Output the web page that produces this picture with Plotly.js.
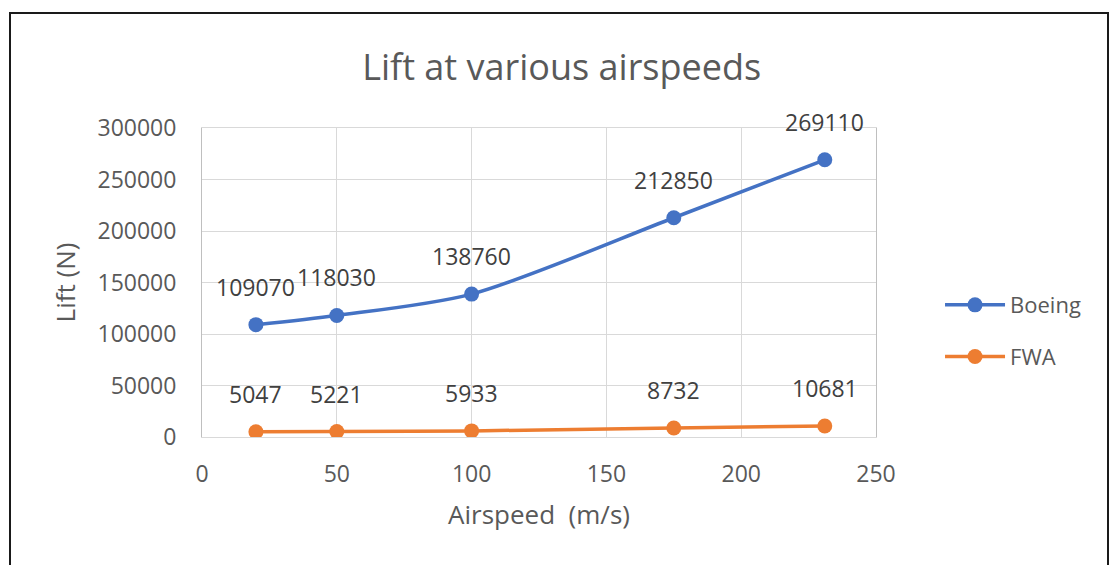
<!DOCTYPE html>
<html>
<head>
<meta charset="utf-8">
<script src="https://cdn.plot.ly/plotly-3.0.1.min.js"></script>
<style>html,body{margin:0;padding:0;background:#fff;}#chart{width:1110px;height:565px;}</style>
</head>
<body>
<div id="chart"></div>
<script>
const airspeed = [20, 50, 100, 175, 231];
const boeingLift = [109070, 118030, 138760, 212850, 269110];
const fwaLift = [5047, 5221, 5933, 8732, 10681];
const seriesNames = ['Boeing', 'FWA'];
const seriesColors = ['#4472C4', '#ED7D31'];
const xTicks = [0, 50, 100, 150, 200, 250];
const yTicks = [0, 50000, 100000, 150000, 200000, 250000, 300000];

const FONT = '"Open Sans", "Noto Sans", sans-serif';
const TXT = '#595959';

function trace(y, i) {
  return {
    x: airspeed, y: y, name: seriesNames[i], legendgroup: seriesNames[i],
    type: 'scatter', mode: 'lines+markers',
    line: {color: seriesColors[i], width: 3.5, shape: 'spline', smoothing: 0.8},
    marker: {color: seriesColors[i], size: 15},
    hoverinfo: 'x+y'
  };
}

function labels(y, i) {
  return airspeed.map((xv, k) => ({
    x: xv, y: y[k], xref: 'x', yref: 'y', text: String(y[k]),
    showarrow: false, yshift: 38,
    font: {family: FONT, size: 23, color: '#404040'}
  }));
}

const data = [trace(boeingLift, 0), trace(fwaLift, 1)];

const layout = {
  width: 1110, height: 565,
  margin: {l: 202, r: 234, t: 128, b: 128, pad: 0},
  paper_bgcolor: '#ffffff', plot_bgcolor: '#ffffff',
  font: {family: FONT, color: TXT},
  title: {text: 'Lift at various airspeeds', x: 0.506, xanchor: 'center', y: 0.88, yanchor: 'middle',
          font: {family: FONT, size: 36, color: TXT}},
  xaxis: {
    range: [0, 250], tickvals: xTicks, ticktext: xTicks.map(String),
    showgrid: true, gridcolor: '#d9d9d9', gridwidth: 1,
    zeroline: false, showline: true, linecolor: '#d9d9d9', linewidth: 1, mirror: true,
    ticks: '', ticklabelstandoff: 16,
    tickfont: {family: FONT, size: 23, color: TXT},
    title: {text: 'Airspeed  (m/s)', standoff: 18, font: {family: FONT, size: 26, color: TXT}}
  },
  yaxis: {
    range: [0, 300000], tickvals: yTicks, ticktext: yTicks.map(String),
    showgrid: true, gridcolor: '#d9d9d9', gridwidth: 1,
    zeroline: false, showline: true, linecolor: '#bfbfbf', linewidth: 1, mirror: true,
    ticks: '', ticklabelstandoff: 20,
    tickfont: {family: FONT, size: 23, color: TXT},
    title: {text: 'Lift (N)', standoff: 14, font: {family: FONT, size: 26, color: TXT}}
  },
  showlegend: true,
  legend: {x: 1.095, xanchor: 'left', y: 0.495, yanchor: 'top', orientation: 'v',
           tracegroupgap: 20, itemwidth: 60,
           font: {family: FONT, size: 22, color: TXT}, bgcolor: 'rgba(0,0,0,0)'},
  annotations: [...labels(boeingLift, 0), ...labels(fwaLift, 1)],
  shapes: [{type: 'rect', xref: 'paper', yref: 'paper',
            x0: (10 - 202) / 674, x1: (1108 - 202) / 674,
            y0: (437 - 600) / 309, y1: (437 - 13) / 309,
            line: {color: '#1a1a1a', width: 2}, fillcolor: 'rgba(0,0,0,0)', layer: 'below'}]
};

Plotly.newPlot('chart', data, layout, {displayModeBar: false, staticPlot: true});
</script>
</body>
</html>
